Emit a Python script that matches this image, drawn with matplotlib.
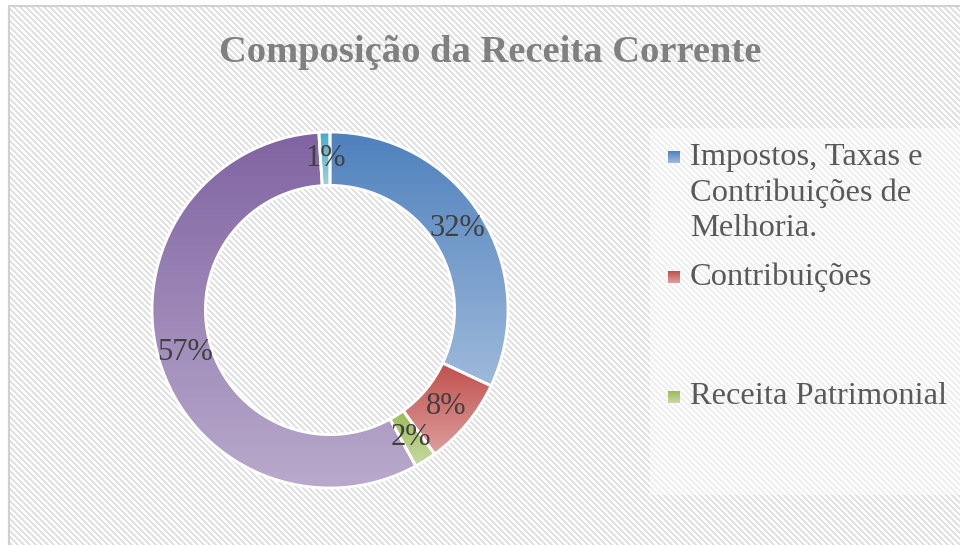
import numpy as np
import matplotlib
matplotlib.use("Agg")
import matplotlib.pyplot as plt
from matplotlib.patches import Rectangle
from matplotlib.colors import to_rgb

# ---------------- data ----------------
title = "Composição da Receita Corrente"
categories = ["Impostos, Taxas e\nContribuições de\nMelhoria.",
              "Contribuições",
              "Receita Patrimonial",
              "Transferências Correntes",
              "Outras Receitas Correntes"]
values = [32, 8, 2, 57, 1]
pct_labels = ["32%", "8%", "2%", "57%", "1%"]
colors = ["#4F81BD", "#C0504D", "#9BBB59", "#8064A2", "#4BACC6"]
n_legend_shown = 3

W, H = 960, 545
fig = plt.figure(figsize=(W / 100, H / 100), dpi=100)
fig.patch.set_facecolor("white")

def fx(px):
    return px / W

def fy(py):
    return 1 - py / H

# ---------------- hatched background ----------------
bg = fig.add_axes([0, 0, 1, 1])
bg.set_axis_off()
yy, xx = np.mgrid[0:H, 0:W]
stripe = ((xx - yy) % 6) < 3
img = np.ones((H, W, 3))
img[stripe] = 0.89
img[:6, :] = 1.0
img[:, :9] = 1.0
bg.imshow(img, extent=[0, W, H, 0], interpolation="nearest", aspect="auto")
bg.set_xlim(0, W)
bg.set_ylim(H, 0)
# chart border
bg.plot([9, 9, W + 5], [H + 5, 6, 6], color="#d0d0d0", lw=1.5)
# legend translucent box
bg.add_patch(Rectangle((650, 128), 320, 367, facecolor="white", alpha=0.45,
                       edgecolor="none"))


def lighten(c, f):
    r = np.array(to_rgb(c))
    return r + (1 - r) * f

# ---------------- donut ----------------
cx, cy, R = 330, 310, 178
ax = fig.add_axes([fx(cx - R), fy(cy + R), 2 * R / W, 2 * R / H])
ax.set_axis_off()
wedges, texts = ax.pie(values, colors=colors, startangle=90, counterclock=False,
                       radius=1.0, wedgeprops=dict(width=0.30, edgecolor="white",
                                                   linewidth=2.0))
ax.set_xlim(-1, 1)
ax.set_ylim(-1, 1)

for w, c in zip(wedges, colors):
    bb = w.get_path().get_extents(w.get_patch_transform())
    top = np.array(to_rgb(c))
    bot = lighten(c, 0.45)
    t = np.linspace(0, 1, 128)[:, None]
    grad = top[None, :] * (1 - t) + bot[None, :] * t
    grad = np.repeat(grad[:, None, :], 2, axis=1)
    im = ax.imshow(grad, extent=[bb.x0, bb.x1, bb.y0, bb.y1], origin="upper",
                   interpolation="bilinear", aspect="auto", zorder=w.get_zorder() + 0.1)
    im.set_clip_path(w)
    w.set_facecolor("none")
    w.set_zorder(w.get_zorder() + 0.2)
ax.set_xlim(-1, 1)
ax.set_ylim(-1, 1)

# percentage labels at ring middle
total = sum(values)
cum = 0
rmid = 0.85
for v, lab in zip(values, pct_labels):
    mid = (cum + v / 2) / total * 2 * np.pi
    cum += v
    x = rmid * np.sin(mid)
    y = rmid * np.cos(mid)
    ax.text(x, y, lab, ha="center", va="center", fontsize=22,
            family="Liberation Serif", color="#404040", zorder=10)

# ---------------- title ----------------
fig.text(fx(490), fy(52), title, ha="center", va="center", fontsize=27.7,
         fontweight="bold", family="Liberation Serif", color="#808080")

# ---------------- legend (truncated like the original) ----------------
for i in range(n_legend_shown):
    yc = 157 + 120 * i
    sq = fig.add_axes([fx(668), fy(yc + 6), 12 / W, 12 / H])
    sq.set_axis_off()
    top = np.array(to_rgb(colors[i]))
    bot = lighten(colors[i], 0.45)
    t = np.linspace(0, 1, 32)[:, None]
    grad = top[None, :] * (1 - t) + bot[None, :] * t
    sq.imshow(np.repeat(grad[:, None, :], 2, axis=1), aspect="auto",
              interpolation="bilinear")
    for j, line in enumerate(categories[i].split("\n")):
        fig.text(fx(690), fy(yc + 36 * j), line, ha="left", va="center",
                 fontsize=23.4, family="Liberation Serif", color="#595959")

fig.savefig("out.png", dpi=100)
